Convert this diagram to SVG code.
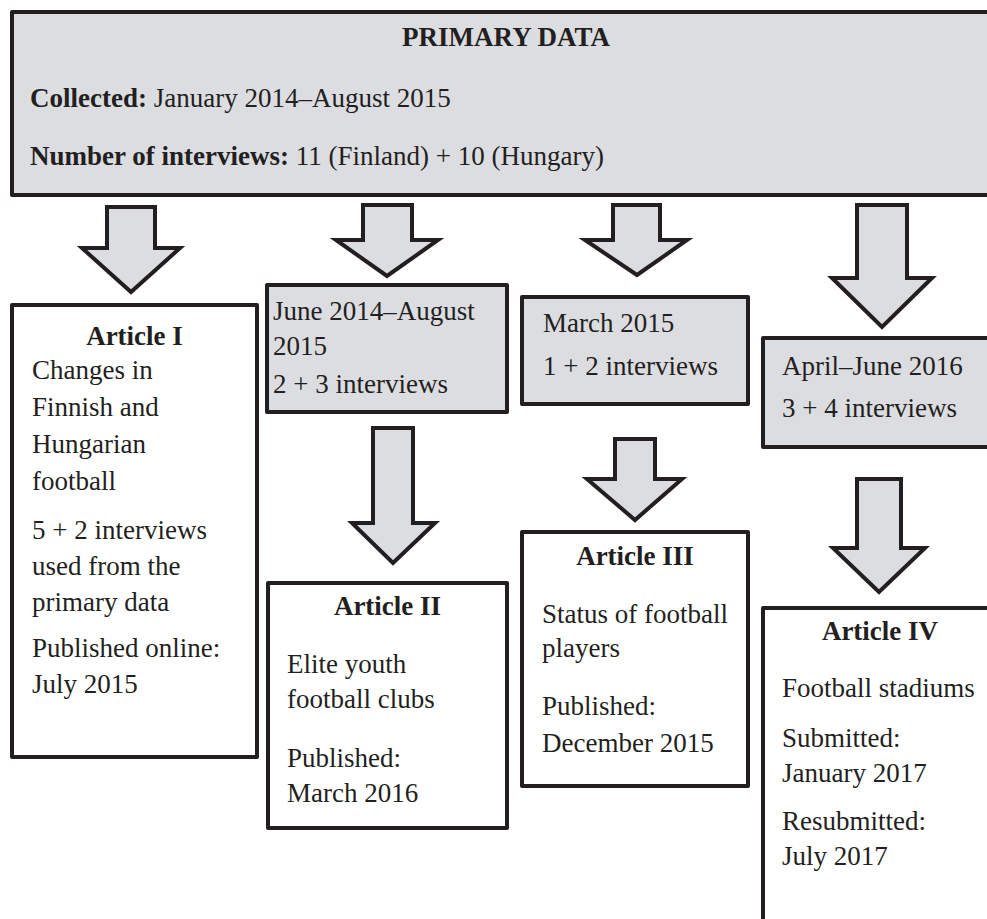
<svg xmlns="http://www.w3.org/2000/svg" width="987" height="919" viewBox="0 0 987 919">
<style>
.box{stroke:#231f20;stroke-width:4;stroke-linejoin:round}
.g{fill:#dcdde0}
.w{fill:#ffffff}
.arr{fill:#dcdde0;stroke:#231f20;stroke-width:4;stroke-linejoin:miter}
text{font-family:"Liberation Serif","Times New Roman",serif;font-size:27px;fill:#231f20}
.b{font-weight:bold}
.c{text-anchor:middle}
</style>
<rect width="987" height="919" fill="#ffffff"/>
<g id="primary">
<rect class="box g" x="12" y="12" width="1000" height="183"/>
<text class="b c" x="506" y="46">PRIMARY DATA</text>
<text x="30" y="107"><tspan class="b">Collected:</tspan> January 2014–August 2015</text>
<text x="30" y="165"><tspan class="b">Number of interviews:</tspan> 11 (Finland) + 10 (Hungary)</text>
</g>
<g id="connectors">
<path class="arr" d="M107,207 H155 V248 H180 L131,292 L82,248 H107 Z"/>
<path class="arr" d="M363,205 H412 V240 H438 L387,276 L336,240 H363 Z"/>
<path class="arr" d="M613,205 H660 V240 H687 L637,275 L585,240 H613 Z"/>
<path class="arr" d="M857,205 H907 V278 H932 L882,327 L832,278 H857 Z"/>
<path class="arr" d="M373,428 H413 V523 H435 L393,563 L352,523 H373 Z"/>
<path class="arr" d="M615,439 H655 V479 H682 L635,520 L587,479 H615 Z"/>
<path class="arr" d="M857,479 H901 V548 H925 L879,592 L833,548 H857 Z"/>
</g>
<g id="june">
<rect class="box g" x="267" y="285" width="240" height="127"/>
<text x="273" y="320">June 2014–August</text>
<text x="273" y="355">2015</text>
<text x="273" y="393">2 + 3 interviews</text>
</g>
<g id="march">
<rect class="box g" x="522" y="297" width="226" height="107"/>
<text x="543" y="332">March 2015</text>
<text x="543" y="375">1 + 2 interviews</text>
</g>
<g id="april">
<rect class="box g" x="763" y="338" width="260" height="109"/>
<text x="782" y="375">April–June 2016</text>
<text x="782" y="417">3 + 4 interviews</text>
</g>
<g id="article1">
<rect class="box w" x="12" y="305" width="245" height="452"/>
<text class="b c" x="134.5" y="345">Article I</text>
<text x="32" y="379">Changes in</text>
<text x="32" y="416">Finnish and</text>
<text x="32" y="453">Hungarian</text>
<text x="32" y="490">football</text>
<text x="32" y="539">5 + 2 interviews</text>
<text x="32" y="575">used from the</text>
<text x="32" y="611">primary data</text>
<text x="32" y="657">Published online:</text>
<text x="32" y="693">July 2015</text>
</g>
<g id="article2">
<rect class="box w" x="268" y="583" width="239" height="245"/>
<text class="b c" x="387.5" y="615">Article II</text>
<text x="287" y="673">Elite youth</text>
<text x="287" y="708">football clubs</text>
<text x="287" y="767">Published:</text>
<text x="287" y="802">March 2016</text>
</g>
<g id="article3">
<rect class="box w" x="522" y="532" width="226" height="254"/>
<text class="b c" x="635" y="565">Article III</text>
<text x="542" y="623">Status of football</text>
<text x="542" y="657">players</text>
<text x="542" y="715">Published:</text>
<text x="542" y="752">December 2015</text>
</g>
<g id="article4">
<rect class="box w" x="763" y="608" width="260" height="340"/>
<text class="b c" x="880" y="640">Article IV</text>
<text x="782" y="697">Football stadiums</text>
<text x="782" y="747">Submitted:</text>
<text x="782" y="782">January 2017</text>
<text x="782" y="830">Resubmitted:</text>
<text x="782" y="865">July 2017</text>
</g>
</svg>
